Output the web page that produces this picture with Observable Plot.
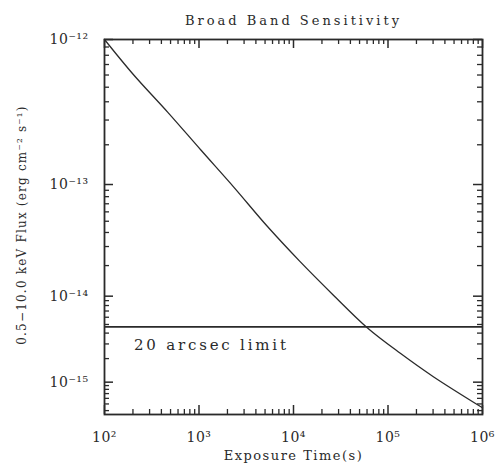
<!DOCTYPE html>
<html>
<head>
<meta charset="utf-8">
<script src="https://cdn.jsdelivr.net/npm/d3@7"></script>
<script src="https://cdn.jsdelivr.net/npm/@observablehq/plot@0.6"></script>
<style>
  html, body { margin: 0; padding: 0; background: #fff; }
  .ttl text { letter-spacing: 3px; }
  .xlab text { letter-spacing: 1.5px; }
  .ylab text { letter-spacing: 1.2px; }
  .ann text { letter-spacing: 2.8px; }
  .ax text { letter-spacing: 0.5px; }
</style>
</head>
<body>
<div id="chart"></div>
<script>
// Exposure time (s) and broad-band flux sensitivity (erg cm^-2 s^-1)
const timeS    = [100, 204, 468, 1047, 2344, 5248, 11750, 26300, 60300, 135000, 302000, 1000000];
const fluxCgs  = [1.0e-12, 6.0e-13, 3.39e-13, 1.83e-13, 9.5e-14, 4.55e-14, 2.18e-14, 1.03e-14, 4.6e-15, 2.32e-15, 1.18e-15, 4.4e-16];
const limitFlux = 4.7e-15;
const limitLabel = ["20 arcsec limit"];
const limitLabelX = [205];
const limitLabelY = [2.9e-15];

const xTicks = [1e2, 1e3, 1e4, 1e5, 1e6];
const yTicks = [1e-12, 1e-13, 1e-14, 1e-15];
const yDomain = [3.5e-16, 1e-12];
const xDomain = [1e2, 1e6];
const yExp = 0.1135;

const titleText = "Broad Band Sensitivity";
const xLabelText = "Exposure Time(s)";
const yLabelText = "0.5\u221210.0 keV Flux (erg cm\u207B\u00B2 s\u207B\u00B9)";

const sup = {"-": "\u207B", "0": "\u2070", "1": "\u00B9", "2": "\u00B2", "3": "\u00B3", "4": "\u2074", "5": "\u2075", "6": "\u2076", "7": "\u2077", "8": "\u2078", "9": "\u2079"};
const pow10 = v => "10" + String(Math.round(Math.log10(v))).split("").map(c => sup[c]).join("");

const W = 496, H = 465;
const mL = 104, mR = 14, mT = 39, mB = 51;
const plotH = H - mT - mB, plotW = W - mL - mR;

const minorOf = (decades, lo, hi) => decades.flatMap(d => [2,3,4,5,6,7,8,9].map(k => k * d)).filter(v => v > lo && v < hi);
const xMinor = minorOf(xTicks, xDomain[0], xDomain[1]);
const yMinor = minorOf([1e-16, 1e-15, 1e-14, 1e-13], yDomain[0], yDomain[1]);

const data = timeS.map((t, i) => ({t, f: fluxCgs[i]}));
const ink = "#2a2a2a";
const font = "DejaVu Serif";

// tick-mark ends expressed as data values (same scale types as the plot)
const yPix = d3.scalePow().exponent(yExp).domain(yDomain).range([plotH, 0]);
const xPix = d3.scaleLog().domain(xDomain).range([0, plotW]);
const tickBottom = (vals, len, w) => Plot.ruleX(vals, {x: d => d, y1: () => yDomain[0], y2: () => yPix.invert(plotH - len), stroke: ink, strokeWidth: w});
const tickTop = (vals, len, w) => Plot.ruleX(vals, {x: d => d, y1: () => yDomain[1], y2: () => yPix.invert(len), stroke: ink, strokeWidth: w});
const tickLeft = (vals, len, w) => Plot.ruleY(vals, {y: d => d, x1: () => xDomain[0], x2: () => xPix.invert(len), stroke: ink, strokeWidth: w});
const tickRight = (vals, len, w) => Plot.ruleY(vals, {y: d => d, x1: () => xDomain[1], x2: () => xPix.invert(plotW - len), stroke: ink, strokeWidth: w});

const chart = Plot.plot({
  width: W, height: H,
  marginLeft: mL, marginRight: mR, marginTop: mT, marginBottom: mB,
  style: {fontFamily: font, fontSize: "13px", color: ink, background: "#fff"},
  x: {type: "log", domain: xDomain},
  y: {type: "pow", exponent: yExp, domain: yDomain},
  marks: [
    Plot.axisX({ticks: xTicks, tickFormat: pow10, tickSize: 0, tickPadding: 18, label: null, fontSize: 14, className: "ax"}),
    Plot.axisY({ticks: yTicks, tickFormat: pow10, tickSize: 0, tickPadding: 16, label: null, fontSize: 14, className: "ax"}),
    Plot.ruleY([limitFlux], {stroke: ink, strokeWidth: 1.8}),
    Plot.line(data, {x: "t", y: "f", stroke: ink, strokeWidth: 1.3, curve: "catmull-rom"}),
    Plot.text(limitLabel, {x: limitLabelX, y: limitLabelY, text: d => d, textAnchor: "start", fontSize: 15, fill: ink, className: "ann"}),
    Plot.frame({stroke: ink, strokeWidth: 1.8}),
    tickBottom(xMinor, 5, 1.3), tickTop(xMinor, 5, 1.3),
    tickBottom(xTicks, 9, 1.5), tickTop(xTicks, 9, 1.5),
    tickLeft(yMinor, 5, 1.3), tickRight(yMinor, 5, 1.3),
    tickLeft(yTicks, 9, 1.5), tickRight(yTicks, 9, 1.5),
    Plot.text([titleText], {frameAnchor: "top", dy: -24, text: d => d, fontSize: 13, fill: ink, className: "ttl"}),
    Plot.text([xLabelText], {frameAnchor: "bottom", dy: 45, text: d => d, fontSize: 13, fill: ink, className: "xlab"}),
    Plot.text([yLabelText], {frameAnchor: "left", textAnchor: "middle", dx: -82, dy: -2, rotate: -90, text: d => d, fontSize: 12, fill: ink, className: "ylab"})
  ]
});
document.getElementById("chart").appendChild(chart);
</script>
</body>
</html>
